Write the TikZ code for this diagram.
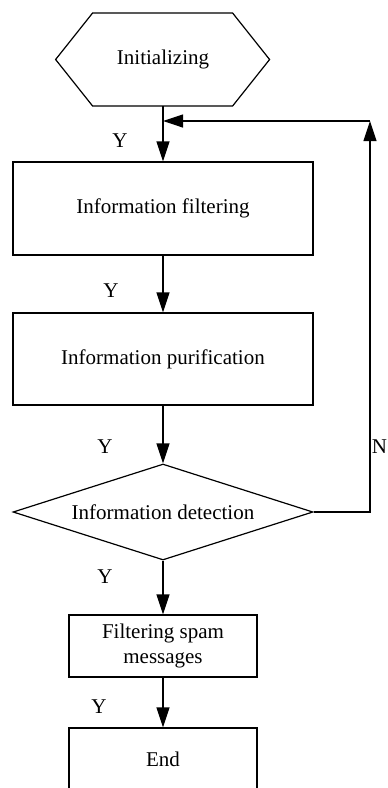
\documentclass[tikz,border=0pt]{standalone}
\usepackage{fontspec}
\setmainfont{Liberation Serif}
\usetikzlibrary{shapes.geometric, arrows.meta}

\begin{document}
\begin{tikzpicture}[x = 0.5pt, y = -0.5pt,
font = \fontsize{10.5}{12.5}\selectfont,
box/.style = {draw, line width = 0.6pt, minimum width = 150pt, minimum height = 46.5pt, inner sep = 0pt},
smallbox/.style = {box, minimum width = 94pt, minimum height = 31pt, align = center},
decision/.style = {diamond, aspect = 3, draw, line width = 0.6pt, minimum width = 150pt, minimum height = 48pt, inner sep = 0pt},
arr/.style = {line width = 0.6pt, -{Triangle[length = 10pt, width = 6.5pt]}}]
\useasboundingbox (0,0) rectangle (387,788);

\node[minimum width = 107pt, minimum height = 46.5pt, inner sep = 0pt] (INI) at (163,59.5) {Initializing};
\draw[line width = 0.6pt] (INI.west) -- ++(37,-46.5) -- ++(140,0) -- ++(37,46.5) -- ++(-37,46.5) -- ++(-140,0) -- cycle;

\node[box] (FIL) at (163,208.5) {Information filtering};
\node[box, minimum height = 46pt] (PUR) at (163,359) {Information purification};
\node[decision] (DET) at (163,512) {Information detection};
\node[smallbox] (SPAM) at (163,646) {Filtering spam\\messages};
\node[smallbox] (END) at (163,759) {End};

\draw[arr] (INI.south) -- (FIL.north);
\draw[arr] (FIL.south) -- (PUR.north);
\draw[arr] (PUR.south) -- (DET.north);
\draw[arr] (DET.south) -- (SPAM.north);
\draw[arr] (SPAM.south) -- (END.north);

% feedback when detection fails
\coordinate (C1) at (370,121);
\draw[arr] (DET.east) -| (C1);
\draw[arr] (C1) -- (C1 -| INI.south);

\node (Y1) at (120,141) {Y};
\node (Y2) at (111,291) {Y};
\node (Y3) at (105,447) {Y};
\node (Y4) at (105,577) {Y};
\node (Y5) at (99,707) {Y};
\node[inner sep = 0pt] (N1) at (379.5,447) {N};
\end{tikzpicture}
\end{document}
